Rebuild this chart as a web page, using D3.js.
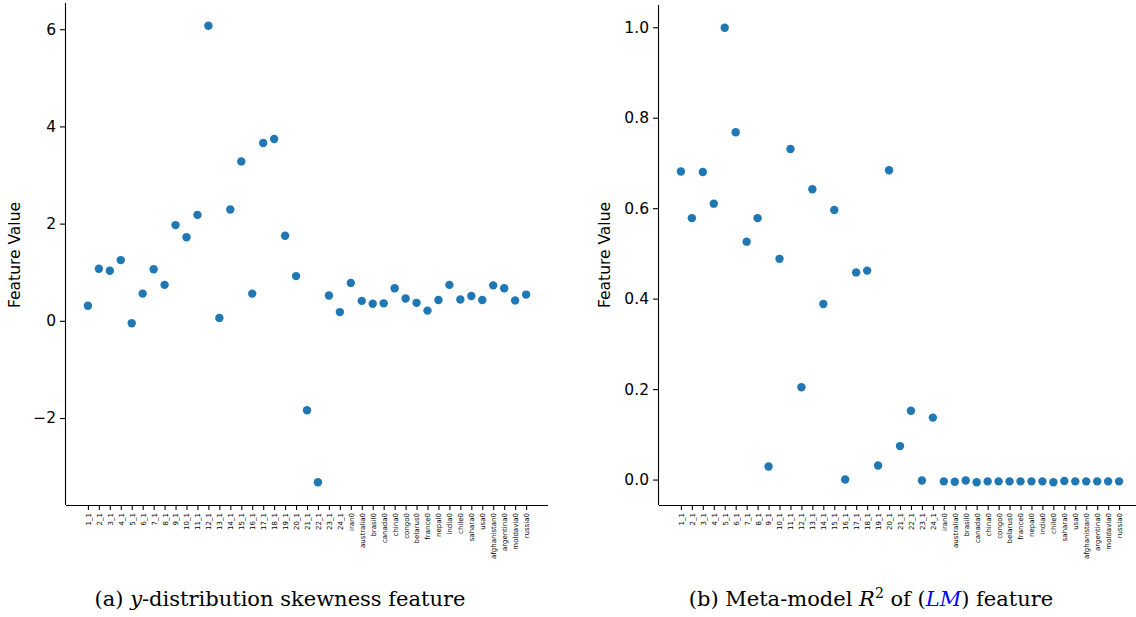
<!DOCTYPE html>
<html>
<head>
<meta charset="utf-8">
<script src="https://cdn.jsdelivr.net/npm/d3@7"></script>
<style>
  body { margin: 0; background: #fff; }
  .axis path, .axis line { stroke: #000; stroke-width: 1.1; }
  .ytick text { font-family: "DejaVu Sans", sans-serif; font-size: 15.5px; fill: #000; }
  .xtick text { font-family: "DejaVu Sans", sans-serif; font-size: 7px; fill: #000; }
  .ylabel { font-family: "DejaVu Sans", sans-serif; font-size: 15.5px; }
  .caption { font-family: "DejaVu Serif", serif; font-size: 21px; }
</style>
</head>
<body>
<svg id="fig" width="1136" height="617"></svg>
<script>
// categories on the x axis (same for both panels)
var categories = ["1_1","2_1","3_1","4_1","5_1","6_1","7_1","8_1","9_1","10_1","11_1","12_1",
  "13_1","14_1","15_1","16_1","17_1","18_1","19_1","20_1","21_1","22_1","23_1","24_1",
  "iran0","australia0","brasil0","canada0","china0","congo0","belarus0","france0","nepal0",
  "india0","chile0","sahara0","usa0","afghanistan0","argentina0","moldavia0","russia0"];

// (a) y-distribution skewness
var skewValues = [0.31, 1.07, 1.03, 1.25, -0.05, 0.56, 1.06, 0.74, 1.97, 1.72, 2.18, 6.07,
  0.06, 2.29, 3.28, 0.56, 3.66, 3.74, 1.75, 0.92, -1.84, -3.32, 0.52, 0.18,
  0.78, 0.41, 0.35, 0.36, 0.67, 0.46, 0.37, 0.21, 0.43,
  0.74, 0.44, 0.51, 0.43, 0.73, 0.67, 0.42, 0.54];

// (b) meta-model R2 of LM
var r2Values = [0.681, 0.578, 0.680, 0.610, 0.999, 0.768, 0.526, 0.578, 0.029, 0.488, 0.731, 0.204,
  0.642, 0.388, 0.596, 0.0, 0.458, 0.462, 0.031, 0.684, 0.074, 0.152, -0.002, 0.137,
  -0.004, -0.005, -0.002, -0.006, -0.004, -0.004, -0.004, -0.004, -0.004,
  -0.004, -0.006, -0.003, -0.004, -0.004, -0.004, -0.004, -0.004];

var skewTicks = [-2, 0, 2, 4, 6];
var r2Ticks = [0.0, 0.2, 0.4, 0.6, 0.8, 1.0];

var svg = d3.select("#fig");
var dotColor = "#1f77b4";

function drawPanel(opt) {
  var g = svg.append("g");

  var x = d3.scalePoint()
      .domain(categories)
      .range([opt.left, opt.left + 482])
      .padding(2);

  // matplotlib style 5% margins on the data range
  var ext = d3.extent(opt.values);
  var pad = (ext[1] - ext[0]) * 0.05;
  var y = d3.scaleLinear()
      .domain([ext[0] - pad, ext[1] + pad])
      .range([505, opt.top]);

  var xAxis = d3.axisBottom(x).tickSize(5).tickSizeOuter(0);
  var gx = g.append("g")
      .attr("class", "axis xtick")
      .attr("transform", "translate(0,505)")
      .call(xAxis);
  gx.select(".domain").attr("d", "M" + opt.left + ",0.5H" + (opt.left + 482));
  gx.selectAll("text")
      .attr("transform", "rotate(-90)")
      .attr("x", -8)
      .attr("y", 0)
      .attr("dy", ".35em")
      .style("text-anchor", "end");

  var yAxis = d3.axisLeft(y).tickValues(opt.ticks).tickSize(6).tickPadding(4)
      .tickSizeOuter(0).tickFormat(opt.fmt);
  var gy = g.append("g")
      .attr("class", "axis ytick")
      .attr("transform", "translate(" + opt.left + ",0)")
      .call(yAxis);
  gy.select(".domain").attr("d", "M-0.5," + opt.top + "V505");

  g.append("text")
      .attr("class", "ylabel")
      .attr("transform", "translate(" + opt.labelX + ",255) rotate(-90)")
      .attr("text-anchor", "middle")
      .attr("dy", ".35em")
      .text("Feature Value");

  g.selectAll("circle")
    .data(opt.values)
    .enter().append("circle")
      .attr("cx", function(d, i) { return x(categories[i]); })
      .attr("cy", function(d) { return y(d); })
      .attr("r", 4.2)
      .style("fill", dotColor);
}

drawPanel({left: 66, top: 3, values: skewValues, ticks: skewTicks,
  fmt: d3.format("d"), labelX: 15});
drawPanel({left: 659, top: 5, values: r2Values, ticks: r2Ticks,
  fmt: d3.format(".1f"), labelX: 605});

// captions
var capA = svg.append("text").attr("class", "caption")
    .attr("x", 280).attr("y", 606).attr("text-anchor", "middle");
capA.append("tspan").text("(a) ");
capA.append("tspan").style("font-style", "italic").text("y");
capA.append("tspan").text("-distribution skewness feature");

var capB = svg.append("text").attr("class", "caption")
    .attr("x", 871).attr("y", 606).attr("text-anchor", "middle");
capB.append("tspan").text("(b) Meta-model ");
capB.append("tspan").style("font-style", "italic").text("R");
capB.append("tspan").attr("dy", -8).style("font-size", "14px").text("2");
capB.append("tspan").attr("dy", 8).text(" of (");
capB.append("tspan").style("font-style", "italic").style("fill", "#0000ff").text("LM");
capB.append("tspan").text(") feature");
</script>
</body>
</html>
